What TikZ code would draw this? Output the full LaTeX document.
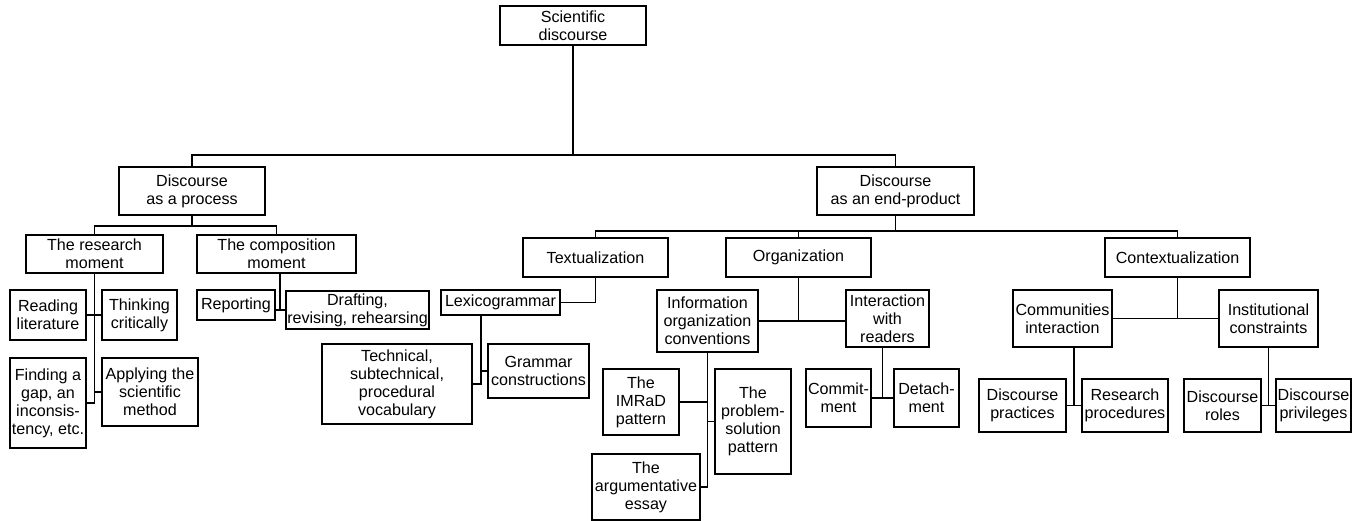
\documentclass[tikz,border=0pt]{standalone}
\usepackage{fontspec}
\setmainfont{Liberation Sans}
\usetikzlibrary{calc}
\tikzset{
  box/.style={draw, line width=1.8pt, align=center, inner sep=1pt,
    font=\fontsize{16.1}{18.1}\selectfont},
  link/.style={line width=1.8pt}
}
\begin{document}
\begin{tikzpicture}[x=1pt,y=-1pt]
\useasboundingbox[fill=white] (0,0) rectangle (1353,521);
% level 0
\node[box, minimum width=146pt, minimum height=39pt] (sci) at (573,25.5) {Scientific\\discourse};
% level 1
\node[box, minimum width=146pt, minimum height=48pt] (proc) at (192,191) {Discourse\\as a process};
\node[box, minimum width=157pt, minimum height=48pt] (prod) at (895.5,191) {Discourse\\as an end-product};
% process branch
\node[box, minimum width=137pt, minimum height=38pt] (research) at (94.5,254) {The research\\moment};
\node[box, minimum width=159pt, minimum height=38pt] (comp) at (276.5,254) {The composition\\moment};
\node[box, minimum width=76pt, minimum height=50pt] (reading) at (48,315) {Reading\\literature};
\node[box, minimum width=75pt, minimum height=50pt] (thinking) at (139.5,315) {Thinking\\critically};
\node[box, minimum width=76pt, minimum height=90pt] (finding) at (48,403) {Finding a\\gap, an\\inconsis-\\tency, etc.};
\node[box, minimum width=96pt, minimum height=68pt] (applying) at (150,392) {Applying the\\scientific\\method};
\node[box, minimum width=78pt, minimum height=30pt] (reporting) at (236,305) {Reporting};
\node[box, minimum width=143pt, minimum height=38pt] (drafting) at (357.5,310) {Drafting,\\revising, rehearsing};
% end-product branch
\node[box, minimum width=145pt, minimum height=39pt] (text) at (595.5,257.5) {Textualization};
\node[box, minimum width=145pt, minimum height=39pt] (org) at (798.5,257.5) {Organization};
\node[box, minimum width=145pt, minimum height=39pt] (context) at (1177.5,257.5) {Contextualization};
\node[box, minimum width=119pt, minimum height=25pt] (lexico) at (500.5,302.5) {Lexicogrammar};
\node[box, minimum width=150pt, minimum height=80pt] (technical) at (397,384) {Technical,\\subtechnical,\\procedural\\vocabulary};
\node[box, minimum width=101pt, minimum height=54pt] (grammar) at (538.5,371) {Grammar\\constructions};
\node[box, minimum width=101pt, minimum height=62pt] (info) at (707.5,321) {Information\\organization\\conventions};
\node[box, minimum width=83pt, minimum height=57pt] (inter) at (887.5,318.5) {Interaction\\with\\readers};
\node[box, minimum width=76pt, minimum height=66pt] (imrad) at (641,402) {The\\IMRaD\\pattern};
\node[box, minimum width=76pt, minimum height=105pt] (problem) at (753,421.5) {The\\problem-\\solution\\pattern};
\node[box, minimum width=108pt, minimum height=66pt] (essay) at (646,487) {The\\argumentative\\essay};
\node[box, minimum width=65pt, minimum height=58pt] (commit) at (838.5,398) {Commit-\\ment};
\node[box, minimum width=65pt, minimum height=58pt] (detach) at (926.5,398) {Detach-\\ment};
\node[box, minimum width=99pt, minimum height=57pt] (comm) at (1062.5,318.5) {Communities\\interaction};
\node[box, minimum width=99pt, minimum height=57pt] (inst) at (1268.5,318.5) {Institutional\\constraints};
\node[box, minimum width=87pt, minimum height=53pt] (dprac) at (1022.5,405.5) {Discourse\\practices};
\node[box, minimum width=86pt, minimum height=53pt] (rproc) at (1125,405.5) {Research\\procedures};
\node[box, minimum width=77pt, minimum height=53pt] (droles) at (1222.5,405.5) {Discourse\\roles};
\node[box, minimum width=75pt, minimum height=53pt] (dpriv) at (1313.5,405.5) {Discourse\\privileges};
% connectors
\draw[link] (sci.south) -- ++(0,109) -| (proc.north);
\draw[link] (sci.south) ++(0,109) -| (prod.north);
\draw[link] (proc.south) -- ++(0,10) -| (research.north);
\draw[link] (proc.south) ++(0,10) -| (comp.north);
% research moment
\draw[link] (research.south) |- (finding.east);
\draw[link] (reading.east) -- (thinking.west);
\draw[link] (research.south |- applying.west) -- (applying.west);
% composition moment
\draw[link] ([xshift=3.5pt]comp.south) -- ([xshift=3.5pt]comp.south |- drafting.west);
\draw[link] (reporting.east |- drafting.west) -- (drafting.west);
% end-product
\draw[link] (prod.south) -- ++(0,15) -| (text.north);
\draw[link] (prod.south) ++(0,15) -| (org.north);
\draw[link] (prod.south) ++(0,15) -| (context.north);
% textualization
\draw[link] (text.south) |- (lexico.east);
\draw[link] ([xshift=-19.5pt]lexico.south) |- (technical.east);
\draw[link] ([xshift=-19.5pt]lexico.south |- grammar.west) -- (grammar.west);
% organization
\draw[link] (info.east) -- (inter.west |- info.east);
\draw[link] (org.south) -- (org.south |- info.east);
\draw[link] (info.south) |- (essay.east);
\draw[link] (info.south |- imrad.east) -- (imrad.east);
\draw[link] (info.south |- problem.west) -- (problem.west);
\coordinate (ij) at ($(commit.east)!.5!(detach.west)$);
\draw[link] (commit.east) -- (detach.west);
\draw[link] (ij) -- (ij |- inter.south);
% contextualization
\draw[link] (comm.east) -- (inst.west);
\draw[link] (context.south) -- (context.south |- comm.east);
\coordinate (cj) at ($(dprac.east)!.5!(rproc.west)$);
\draw[link] (dprac.east) -- (rproc.west);
\draw[link] (cj) -- (cj |- comm.south);
\coordinate (nj) at ($(droles.east)!.5!(dpriv.west)$);
\draw[link] (droles.east) -- (dpriv.west);
\draw[link] (nj) -- (nj |- inst.south);
\end{tikzpicture}
\end{document}
